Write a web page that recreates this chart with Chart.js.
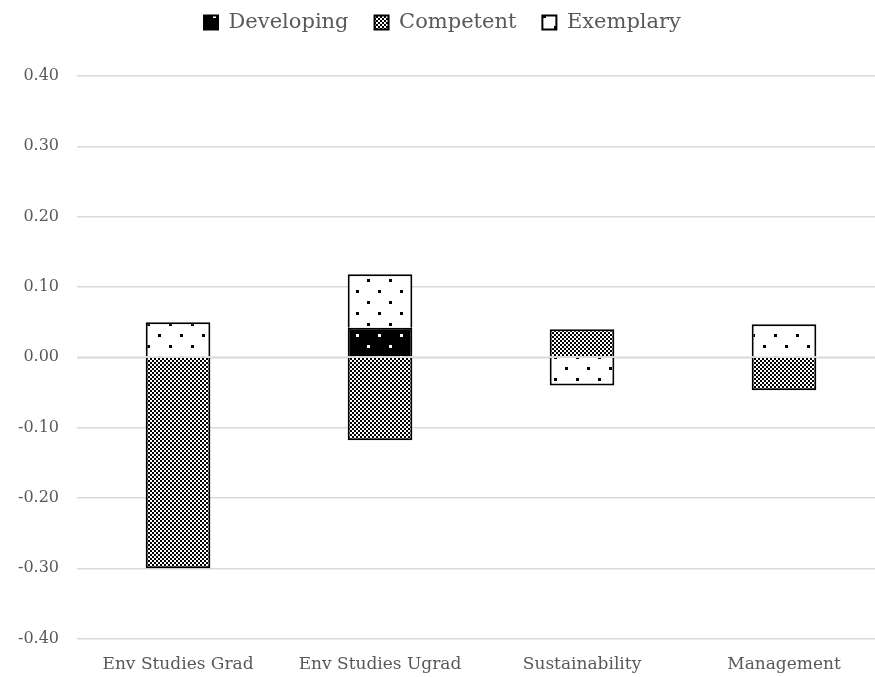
<!DOCTYPE html>
<html lang="en">
<head>
    <meta charset="UTF-8">
    <title>Stacked Chart</title>
    <style>
        html, body {
            margin: 0;
            padding: 0;
            background: #fff;
            overflow: hidden;
        }
        /* plot runs a bit past the right edge, like the original crop */
        #wrap {
            width: 885px;
            height: 677px;
        }
    </style>
    <script src="https://cdn.jsdelivr.net/npm/chart.js"></script>
</head>
<body>
    <div id="wrap"><canvas id="chart"></canvas></div>

    <script>
        const categories = ['Env Studies Grad', 'Env Studies Ugrad', 'Sustainability', 'Management'];
        const developing = [null, 0.042, null, null];
        const competent = [-0.30, -0.118, 0.04, -0.047];
        const exemplary = [0.05, 0.076, -0.04, 0.047];
        const yTicks = [-0.4, -0.3, -0.2, -0.1, 0, 0.1, 0.2, 0.3, 0.4];

        // fill patterns like the excel ones
        function dotPattern(bg, fg) {
            const c = document.createElement('canvas');
            c.width = 22;
            c.height = 22;
            const g = c.getContext('2d');
            g.fillStyle = bg;
            g.fillRect(0, 0, 22, 22);
            g.fillStyle = fg;
            g.fillRect(4, 4, 3, 3);
            g.fillRect(15, 15, 3, 3);
            return g.createPattern(c, 'repeat');
        }

        function checkerPattern() {
            const c = document.createElement('canvas');
            c.width = 4;
            c.height = 4;
            const g = c.getContext('2d');
            g.fillStyle = '#fff';
            g.fillRect(0, 0, 4, 4);
            g.fillStyle = '#000';
            g.fillRect(0, 0, 2, 2);
            g.fillRect(2, 2, 2, 2);
            return g.createPattern(c, 'repeat');
        }

        // horizontal axis line at zero, drawn over the bars
        const zeroLine = {
            id: 'zeroLine',
            afterDatasetsDraw(chart) {
                const y = chart.scales.y.getPixelForValue(0);
                const ctx = chart.ctx;
                ctx.save();
                ctx.strokeStyle = '#d9d9d9';
                ctx.lineWidth = 1.5;
                ctx.beginPath();
                ctx.moveTo(chart.chartArea.left, y);
                ctx.lineTo(chart.chartArea.right, y);
                ctx.stroke();
                ctx.restore();
            }
        };

        // more room under the legend
        const legendGap = {
            id: 'legendGap',
            beforeInit(chart) {
                const fit = chart.legend.fit;
                chart.legend.fit = function () {
                    fit.bind(chart.legend)();
                    this.height += 33;
                };
            }
        };

        const textColor = '#595959';
        const font = '"DejaVu Serif", serif';

        new Chart(document.getElementById('chart').getContext('2d'), {
            type: 'bar',
            data: {
                labels: categories,
                datasets: [
                    {
                        label: 'Developing',
                        data: developing,
                        backgroundColor: dotPattern('#000', '#fff'),
                        borderColor: '#000',
                        borderWidth: 2
                    },
                    {
                        label: 'Competent',
                        data: competent,
                        backgroundColor: checkerPattern(),
                        borderColor: '#000',
                        borderWidth: 2
                    },
                    {
                        label: 'Exemplary',
                        data: exemplary,
                        backgroundColor: dotPattern('#fff', '#000'),
                        borderColor: '#000',
                        borderWidth: 2
                    }
                ]
            },
            options: {
                responsive: true,
                maintainAspectRatio: false,
                animation: false,
                layout: {
                    padding: { left: 0, right: 0, top: -14, bottom: -6 }
                },
                datasets: {
                    bar: {
                        categoryPercentage: 1,
                        barPercentage: 0.32
                    }
                },
                plugins: {
                    tooltip: { enabled: false },
                    legend: {
                        position: 'top',
                        labels: {
                            color: textColor,
                            font: { family: font, size: 21 },
                            boxWidth: 14,
                            boxHeight: 14,
                            padding: 26
                        }
                    }
                },
                scales: {
                    x: {
                        stacked: true,
                        grid: { display: false },
                        border: { display: false },
                        ticks: {
                            color: textColor,
                            font: { family: font, size: 17 },
                            padding: 8
                        }
                    },
                    y: {
                        stacked: true,
                        min: -0.4,
                        max: 0.4,
                        afterBuildTicks(axis) {
                            axis.ticks = yTicks.map(v => ({ value: v }));
                        },
                        grid: {
                            color: '#d9d9d9',
                            lineWidth: 1.5,
                            drawTicks: false
                        },
                        border: { display: false },
                        ticks: {
                            color: textColor,
                            font: { family: font, size: 16 },
                            padding: 18,
                            callback: v => v.toFixed(2)
                        }
                    }
                }
            },
            plugins: [zeroLine, legendGap]
        });
    </script>
</body>
</html>
